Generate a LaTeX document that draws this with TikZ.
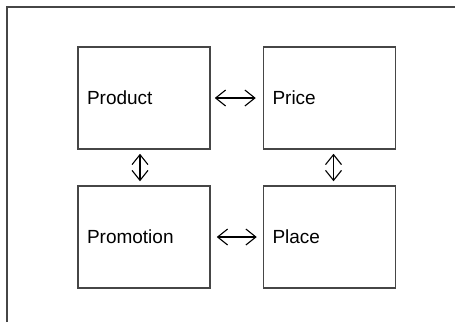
\documentclass[tikz,border=0pt]{standalone}
\usepackage{fontspec}
\setmainfont{Liberation Sans}
\usepackage{xcolor}
\definecolor{frame_grey}{RGB}{70,70,70}
\usepackage{tikz}
\usetikzlibrary{arrows.meta,positioning}

\begin{document}
\begin{tikzpicture}
[
    x = 0.5pt, y = -0.5pt,
    mixbox/.style = {draw = frame_grey, line width = 0.75pt, minimum width = 66pt, minimum height = 51pt,
                     text width = 57pt, inner sep = 4.5pt, align = left,
                     font = \fontsize{9.5}{11}\selectfont},
    link/.style = {{Straight Barb[length=5pt,width=8pt]}-{Straight Barb[length=5pt,width=8pt]}, line width = 0.55pt}
]
\useasboundingbox (0,0) rectangle (455,322);
\draw[frame_grey, line width = 1pt] (7,322) -- (7,7) -- (455,7);

\node[mixbox] (product)   at (144,98)  {Product};
\node[mixbox] (price)     at (329.5,98) {Price};
\node[mixbox] (promotion) at (144,237) {Promotion};
\node[mixbox] (place)     at (329.5,237) {Place};

\draw[link, shorten <= 2pt, shorten >= 3.5pt] (product) -- (price);
\draw[link, shorten <= 3pt, shorten >= 3pt] (promotion) -- (place);
\draw[link, shorten <= 2pt, shorten >= 2pt] ([xshift=-2pt]product.south) -- ([xshift=-2pt]promotion.north);
\draw[link, shorten <= 2pt, shorten >= 2pt] ([xshift=2pt]price.south) -- ([xshift=2pt]place.north);
\end{tikzpicture}
\end{document}
